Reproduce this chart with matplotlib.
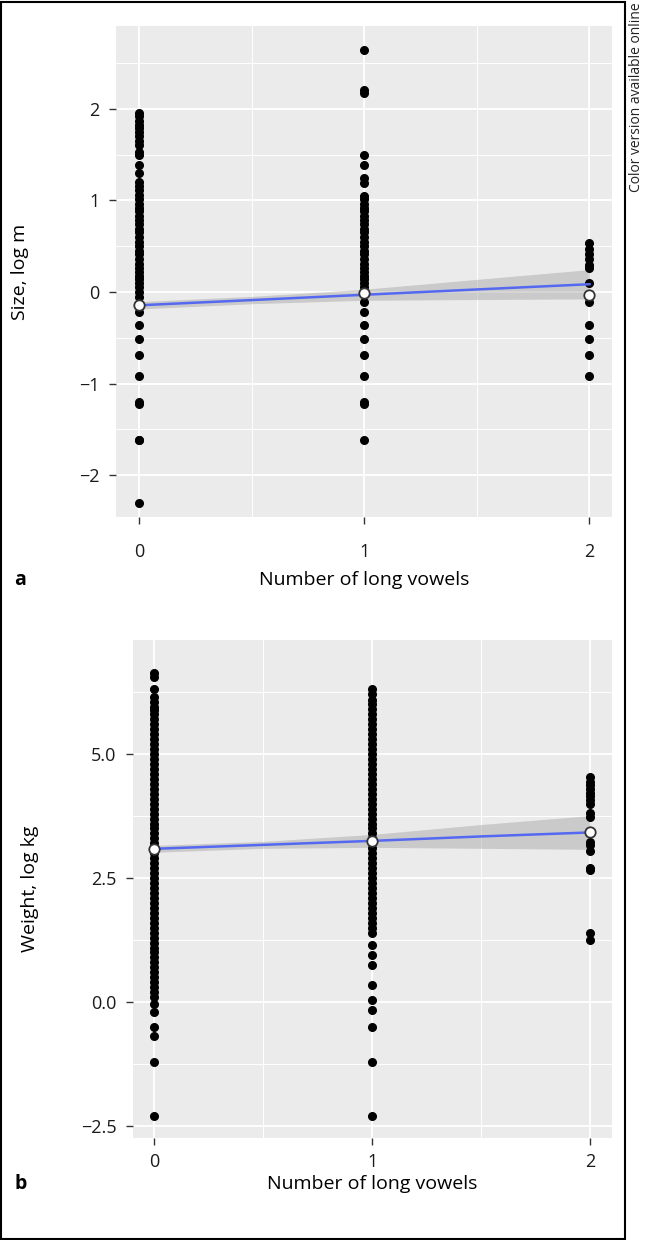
"""Two ggplot-style strip plots: size and weight against number of long vowels."""

import matplotlib.pyplot as plt
from matplotlib.patches import Rectangle
from matplotlib.ticker import MultipleLocator

plt.rcParams["font.family"] = ["Open Sans", "DejaVu Sans"]

# ---- panel a: size, log m ----
size_v0 = [1.95, 1.92, 1.87, 1.82, 1.79, 1.75, 1.70, 1.65, 1.61, 1.53, 1.50, 1.39, 1.30,
           1.20, 1.16, 1.11, 1.06, 1.01, 0.96, 0.92, 0.88, 0.83, 0.79, 0.74, 0.69, 0.65,
           0.60, 0.55, 0.50, 0.45, 0.41, 0.36, 0.31, 0.26, 0.22, 0.18, 0.14, 0.10, 0.05,
           0.00, -0.05, -0.14, -0.22, -0.36, -0.51, -0.69, -0.92, -1.20, -1.22, -1.61,
           -1.62, -2.30]
size_v1 = [2.64, 2.20, 2.17, 1.50, 1.39, 1.25, 1.19, 1.05, 1.01, 0.96, 0.92, 0.88, 0.83,
           0.79, 0.74, 0.69, 0.65, 0.60, 0.55, 0.50, 0.45, 0.41, 0.36, 0.31, 0.26, 0.22,
           0.18, 0.14, 0.10, 0.05, -0.11, -0.22, -0.36, -0.51, -0.69, -0.92, -1.20,
           -1.22, -1.61]
size_v2 = [0.53, 0.47, 0.41, 0.36, 0.30, 0.26, 0.10, -0.11, -0.36, -0.51, -0.69, -0.92]
size_means = [-0.14, -0.01, -0.03]
size_fit_x = [0, 0.5, 1, 1.5, 2]
size_fit_y = [-0.145, -0.088, -0.03, 0.028, 0.085]
size_fit_se = [0.04, 0.04, 0.06, 0.11, 0.16]

# ---- panel b: weight, log kg ----
weight_v0 = [6.64, 6.56, 6.31, 6.15, 6.05, 5.95, 5.89, 5.80, 5.70, 5.60, 5.50, 5.40, 5.30,
             5.20, 5.10, 5.00, 4.90, 4.80, 4.70, 4.60, 4.50, 4.40, 4.30, 4.20, 4.10, 4.00,
             3.90, 3.80, 3.70, 3.60, 3.50, 3.40, 3.30, 3.20, 3.10, 3.00, 2.90, 2.80, 2.70,
             2.60, 2.50, 2.40, 2.30, 2.20, 2.10, 2.00, 1.90, 1.80, 1.70, 1.60, 1.50, 1.40,
             1.30, 1.20, 1.10, 1.00, 0.90, 0.80, 0.70, 0.60, 0.50, 0.40, 0.31, 0.21, 0.11,
             -0.03, -0.20, -0.50, -0.69, -1.20, -2.29]
weight_v1 = [6.31, 6.21, 6.10, 6.00, 5.90, 5.80, 5.70, 5.60, 5.50, 5.40, 5.30, 5.20, 5.10,
             5.00, 4.90, 4.80, 4.70, 4.60, 4.50, 4.40, 4.30, 4.20, 4.10, 4.00, 3.90, 3.80,
             3.70, 3.60, 3.50, 3.40, 3.30, 3.20, 3.10, 3.00, 2.90, 2.80, 2.70, 2.60, 2.50,
             2.40, 2.30, 2.20, 2.10, 2.00, 1.90, 1.80, 1.70, 1.60, 1.50, 1.40, 1.15, 0.95,
             0.75, 0.34, 0.05, -0.15, -0.50, -1.20, -2.30]
weight_v2 = [4.54, 4.44, 4.38, 4.30, 4.22, 4.15, 4.08, 4.00, 3.81, 3.73, 3.43, 3.23, 3.16,
             3.05, 2.70, 2.66, 1.40, 1.25]
weight_means = [3.09, 3.25, 3.42]
weight_fit_x = [0, 0.5, 1, 1.5, 2]
weight_fit_y = [3.09, 3.17, 3.25, 3.34, 3.42]
weight_fit_se = [0.07, 0.07, 0.13, 0.24, 0.34]

W, H = 646, 1240
PANEL_BG = "#EBEBEB"
FIT_BLUE = "#5468F0"


def _ax_at(fig, left, top, right, bottom):
    return fig.add_axes([left / W, 1 - bottom / H, (right - left) / W, (bottom - top) / H])


def _style(ax, ystep, xpad):
    ax.set_facecolor(PANEL_BG)
    for s in ax.spines.values():
        s.set_visible(False)
    ax.xaxis.set_major_locator(MultipleLocator(1))
    ax.xaxis.set_minor_locator(MultipleLocator(0.5))
    ax.yaxis.set_major_locator(MultipleLocator(ystep))
    ax.yaxis.set_minor_locator(MultipleLocator(ystep / 2))
    ax.grid(which="major", color="white", lw=1.3)
    ax.grid(which="minor", color="white", lw=0.7)
    ax.set_axisbelow(True)
    ax.tick_params(which="major", length=5, width=1, color="#333333",
                   labelsize=13, labelcolor="#1a1a1a", pad=7)
    ax.tick_params(axis="x", which="major", pad=xpad)
    ax.tick_params(which="minor", length=0)


def _panel(ax, cols, means, fx, fy, fse):
    lo = [y - s for y, s in zip(fy, fse)]
    hi = [y + s for y, s in zip(fy, fse)]
    ax.fill_between(fx, lo, hi, color="#999999", alpha=0.4, lw=0, zorder=2)
    for i, vals in enumerate(cols):
        ax.plot([i] * len(vals), vals, "o", color="black", ms=5.5, mec="black", zorder=3)
    ax.plot(fx, fy, color=FIT_BLUE, lw=1.8, zorder=4)
    ax.plot(range(len(means)), means, "o", ms=7.5, mfc="white", mec="#333333",
            mew=1.3, zorder=5)


fig = plt.figure(figsize=(W / 100, H / 100), dpi=100)

ax1 = _ax_at(fig, 116, 26, 612, 517)
_style(ax1, 1, 14)
_panel(ax1, [size_v0, size_v1, size_v2], size_means, size_fit_x, size_fit_y, size_fit_se)
ax1.set_xlim(-0.102, 2.1)
ax1.set_ylim(-2.456, 2.904)
ax1.yaxis.set_major_formatter(lambda v, p: f"{v:.0f}".replace("-", "\u2212"))

ax2 = _ax_at(fig, 133, 640, 612, 1138)
_style(ax2, 2.5, 6)
_panel(ax2, [weight_v0, weight_v1, weight_v2], weight_means, weight_fit_x, weight_fit_y, weight_fit_se)
ax2.set_xlim(-0.096, 2.1)
ax2.set_ylim(-2.74, 7.30)
ax2.yaxis.set_major_formatter(lambda v, p: f"{v:.1f}".replace("-", "\u2212"))

# axis titles and panel letters
fig.text(364 / W, 1 - 580 / H, "Number of long vowels", ha="center", va="center", fontsize=14)
fig.text(372 / W, 1 - 1184 / H, "Number of long vowels", ha="center", va="center", fontsize=14)
fig.text(20 / W, 1 - 272 / H, "Size, log m", rotation=90, ha="center", va="center", fontsize=14)
fig.text(30 / W, 1 - 889 / H, "Weight, log kg", rotation=90, ha="center", va="center", fontsize=14)
fig.text(14 / W, 1 - 580 / H, "a", ha="left", va="center", fontsize=14, fontweight="bold")
fig.text(14 / W, 1 - 1184 / H, "b", ha="left", va="center", fontsize=14, fontweight="bold")

fig.text(636 / W, 1 - 2 / H, "Color version available online", rotation=90,
         ha="center", va="top", fontsize=10, color="#222222")

fig.add_artist(Rectangle((1 / W, 1 / H), 624 / W, 1237 / H, transform=fig.transFigure,
                         fill=False, edgecolor="black", lw=1.5))

fig.savefig("out.png", dpi=100)
